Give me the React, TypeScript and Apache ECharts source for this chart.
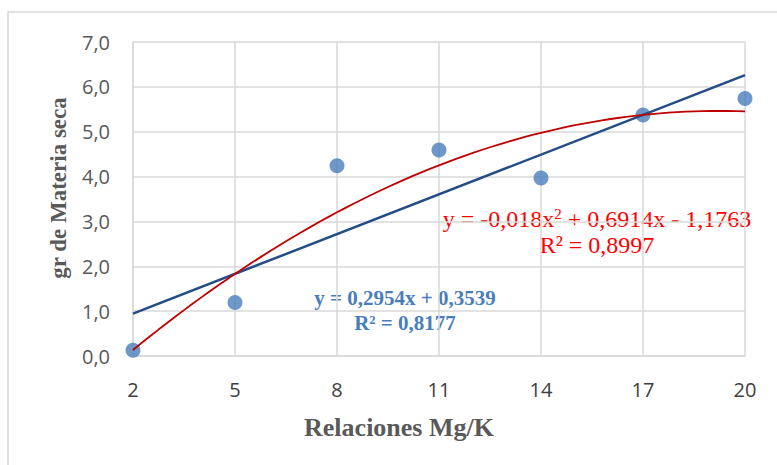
import React, { useEffect, useRef } from "react";
import * as echarts from "echarts";

const xValues = [2, 5, 8, 11, 14, 17, 20];
const yValues = [0.13, 1.19, 4.24, 4.59, 3.97, 5.37, 5.74];
// Trend line coefficients as printed on the chart (constant first)
const linearCoef = [0.3539, 0.2954];
const polyCoef = [-1.1763, 0.6914, -0.018];
const linearLabel = ["y = 0,2954x + 0,3539", "R² = 0,8177"];
const polyLabel = ["y = -0,018x", "2", " + 0,6914x - 1,1763", "R² = 0,8997"];
const xTitle = "Relaciones Mg/K";
const yTitle = "gr de Materia seca";

export default function App() {
  const ref = useRef<HTMLDivElement>(null);
  useEffect(() => {
    if (!ref.current) return;
    const chart = echarts.init(ref.current, undefined, { renderer: "svg" });
    const x0 = xValues[0];
    const x1 = xValues[xValues.length - 1];
    const linData = [x0, x1].map((x) => [x, linearCoef[0] + linearCoef[1] * x]);
    const polyData: number[][] = [];
    for (let x = x0; x <= x1 + 1e-9; x += 0.25) {
      polyData.push([x, polyCoef[0] + polyCoef[1] * x + polyCoef[2] * x * x]);
    }
    const serif = "'Liberation Serif', 'Times New Roman', serif";
    const sans = "'Open Sans', sans-serif";
    chart.setOption({
      animation: false,
      backgroundColor: "#ffffff",
      grid: { left: 133, right: 32, top: 42, bottom: 109 },
      xAxis: {
        type: "value",
        min: 2,
        max: 20,
        interval: 3,
        axisLine: { show: true, lineStyle: { color: "#D9D9D9", width: 1.5 } },
        axisTick: { show: false },
        splitLine: { show: true, lineStyle: { color: "#D9D9D9", width: 1.5 } },
        axisLabel: { color: "#404040", fontSize: 20, fontFamily: sans, margin: 23 },
      },
      yAxis: {
        type: "value",
        min: 0,
        max: 7,
        interval: 1,
        axisLine: { show: true, lineStyle: { color: "#D9D9D9", width: 1.5 } },
        axisTick: { show: false },
        splitLine: { show: true, lineStyle: { color: "#D9D9D9", width: 1.5 } },
        axisLabel: {
          color: "#595959",
          fontSize: 20,
          fontFamily: sans,
          margin: 23,
          formatter: (v: number) => v.toFixed(1).replace(".", ","),
        },
      },
      series: [
        {
          type: "scatter",
          data: xValues.map((x, i) => [x, yValues[i]]),
          symbolSize: 15,
          itemStyle: { color: "#4A7EBB" },
          z: 2,
        },
        {
          type: "line",
          data: linData,
          showSymbol: false,
          lineStyle: { color: "#244C85", width: 2.5 },
          z: 3,
        },
        {
          type: "line",
          data: polyData,
          showSymbol: false,
          smooth: false,
          lineStyle: { color: "#C00000", width: 1.8 },
          z: 4,
        },
      ],
      graphic: [
        {
          type: "rect",
          shape: { x: 8, y: 12, width: 800, height: 500 },
          style: { fill: "none", stroke: "#D9D9D9", lineWidth: 1.5 },
          z: -10,
          silent: true,
        },
        {
          type: "text",
          x: 399,
          y: 427,
          style: {
            text: xTitle,
            fill: "#595959",
            font: "bold 26px " + serif,
            align: "center",
            verticalAlign: "middle",
          },
        },
        {
          type: "text",
          x: 58,
          y: 188,
          rotation: Math.PI / 2,
          style: {
            text: yTitle,
            fill: "#595959",
            font: "bold 23px " + serif,
            align: "center",
            verticalAlign: "middle",
          },
        },
        {
          type: "text",
          x: 405,
          y: 298,
          style: {
            text: linearLabel[0],
            fill: "#4A7EBB",
            font: "bold 21px " + serif,
            align: "center",
            verticalAlign: "middle",
          },
        },
        {
          type: "text",
          x: 405,
          y: 323,
          style: {
            text: linearLabel[1],
            fill: "#4A7EBB",
            font: "bold 21px " + serif,
            align: "center",
            verticalAlign: "middle",
          },
        },
        {
          type: "text",
          x: 597,
          y: 219,
          style: {
            text: "{a|" + polyLabel[0] + "}{s|" + polyLabel[1] + "}{a|" + polyLabel[2] + "}",
            align: "center",
            verticalAlign: "middle",
            rich: {
              a: { fill: "#FF0000", fontSize: 24, fontFamily: serif },
              s: { fill: "#FF0000", fontSize: 15, fontFamily: serif, verticalAlign: "top", padding: [0, 0, 10, 0] },
            },
          } as any,
        },
        {
          type: "text",
          x: 597,
          y: 245,
          style: {
            text: polyLabel[3],
            fill: "#FF0000",
            font: "24px " + serif,
            align: "center",
            verticalAlign: "middle",
          },
        },
      ],
    });
    return () => chart.dispose();
  }, []);
  return (
    <div
      ref={ref}
      style={{ position: "absolute", left: 0, top: 0, width: 777, height: 465 }}
    />
  );
}
